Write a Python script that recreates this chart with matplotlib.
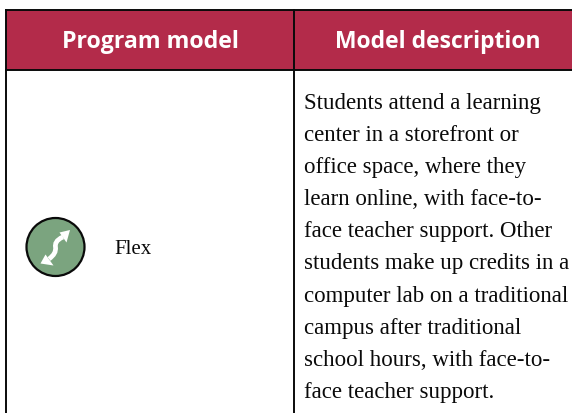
import matplotlib.pyplot as plt
from matplotlib.patches import Rectangle, Circle, PathPatch, Polygon
from matplotlib.path import Path

# Contenido de la tabla
headers = ['Program model', 'Model description']
model = 'Flex'
description = ['Students attend a learning',
               'center in a storefront or',
               'office space, where they',
               'learn online, with face-to-',
               'face teacher support. Other',
               'students make up credits in a',
               'computer lab on a traditional',
               'campus after traditional',
               'school hours, with face-to-',
               'face teacher support.']

W, H = 572, 413
rojo = '#B32B4A'
verde = '#7BA47F'
negro = '#0A0A0A'

fig = plt.figure(figsize=(W / 100, H / 100), dpi=100)
ax = fig.add_axes([0, 0, 1, 1])
ax.set_xlim(0, W)
ax.set_ylim(H, 0)
ax.axis('off')

# Encabezado
ax.add_patch(Rectangle((6, 10), W - 6, 60, color=rojo, lw=0))
ax.plot([6, W], [10, 10], color=negro, lw=1.4)
ax.plot([6, W], [70, 70], color=negro, lw=1.4)
ax.plot([6, 6], [10, H], color=negro, lw=1.4)
ax.plot([294, 294], [10, H], color=negro, lw=1.4)

ax.text(150, 42.5, headers[0], color='white', fontsize=16.7, fontweight='bold',
        family='Open Sans', ha='center', va='center')
ax.text(438, 42.5, headers[1], color='white', fontsize=16.5, fontweight='bold',
        family='Open Sans', ha='center', va='center')

# Icono: circulo, curva en S y dos puntas de flecha
ax.add_patch(Circle((55.5, 247), 29, facecolor=verde, edgecolor=negro, lw=1.6))
curva = Path([(63, 237), (56, 240), (55, 244), (55.5, 247), (56, 252), (54, 255), (49, 259)],
             [Path.MOVETO, Path.CURVE4, Path.CURVE4, Path.CURVE4, Path.CURVE4, Path.CURVE4, Path.CURVE4])
ax.add_patch(PathPatch(curva, facecolor='none', edgecolor='white', lw=3.4))
ax.add_patch(Polygon([(70, 230), (59.5, 232.5), (66.5, 242.5)], color='white', lw=0))
ax.add_patch(Polygon([(40.5, 263.5), (45.5, 254.5), (53.5, 265.5)], color='white', lw=0))

ax.text(114, 249, model, color=negro, fontsize=15, family='Liberation Serif',
        ha='left', va='center')

# Texto de la descripción
for i, linea in enumerate(description):
    ax.text(304, 103 + i * 32.2, linea, color=negro, fontsize=16.5,
            family='Liberation Serif', ha='left', va='center')

fig.savefig('out.png', dpi=100)
